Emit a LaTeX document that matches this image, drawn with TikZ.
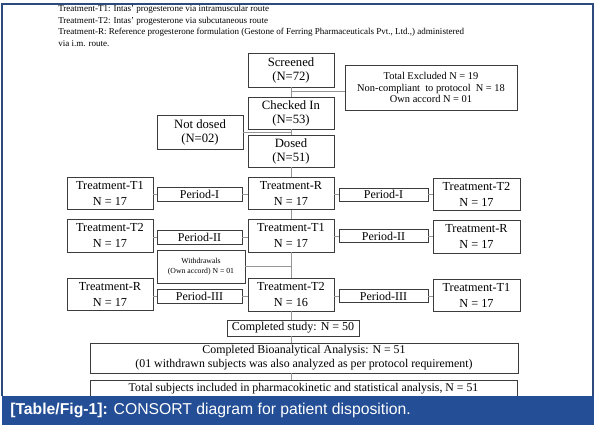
\documentclass[tikz,border=0pt]{standalone}
\usepackage{fontspec}
\setmainfont{Liberation Serif}
\setsansfont{Liberation Sans}
\definecolor{framec}{RGB}{44,74,124}
\definecolor{barc}{RGB}{36,78,150}
\definecolor{boxc}{RGB}{60,60,60}
\definecolor{linec}{RGB}{150,150,150}
\begin{document}
\begin{tikzpicture}[x=0.75pt,y=-0.75pt,
  bx/.style 2 args={draw=boxc, line width=0.7pt, minimum width={#1*0.75pt}, minimum height={#2*0.75pt}, inner sep=0pt, align=center},
  tr/.style={font=\fontsize{9.2}{12}\selectfont},
  pr/.style={font=\fontsize{9}{10}\selectfont},
  ln/.style={draw=linec, line width=0.7pt},
  hd/.style={anchor=base west, inner sep=0pt, font=\fontsize{6.77}{8}\selectfont}]
\useasboundingbox (0,0) rectangle (599,428);
% frame
\draw[framec, line width=0.8pt] (2,396) -- (2,4) -- (593,4) -- (593,396);
% header
\node[hd] (h1) at (58,12) {Treatment-T1: Intas’ progesterone via intramuscular route};
\node[hd] (h2) at (58,23.5) {Treatment-T2: Intas’ progesterone via subcutaneous route};
\node[hd] (h3) at (58,35) {Treatment-R: Reference progesterone formulation (Gestone of Ferring Pharmaceuticals Pvt., Ltd.,) administered};
\node[hd] (h4) at (58,46.5) {via i.m. route.};
% top chain
\node[bx={86}{34}, font=\fontsize{9.5}{10.5}\selectfont] (scr) at (291,70) {Screened\\(N=72)};
\node[bx={86}{32}, font=\fontsize{9.5}{10.5}\selectfont] (chk) at (291,113) {Checked In\\(N=53)};
\node[bx={86}{32}, font=\fontsize{9.5}{10.5}\selectfont] (dos) at (291,151) {Dosed\\(N=51)};
\node[bx={86}{34}, font=\fontsize{9.5}{10.5}\selectfont] (nd) at (200,132) {Not dosed\\(N=02)};
\node[bx={172}{45}, font=\fontsize{7.8}{8.8}\selectfont] (exc) at (431,87.5) {Total Excluded N = 19\\Non-compliant\ \ to protocol\ \ N = 18\\Own accord N = 01};
% row 1
\node[bx={86}{32}, tr] (t1L) at (110,193.5) {Treatment-T1\\N = 17};
\node[bx={85}{14}, pr] (p1L) at (199.5,194.5) {Period-I};
\node[bx={86}{32}, tr] (rC) at (291,193.5) {Treatment-R\\N = 17};
\node[bx={89}{13}, pr] (p1R) at (383.5,194.5) {Period-I};
\node[bx={87}{32}, tr] (t2R) at (476.5,194) {Treatment-T2\\N = 17};
% row 2
\node[bx={86}{33}, tr] (t2L) at (110,235.5) {Treatment-T2\\N = 17};
\node[bx={85}{14}, pr] (p2L) at (199.5,237) {Period-II};
\node[bx={86}{33}, tr] (t1C) at (291,235.5) {Treatment-T1\\N = 17};
\node[bx={89}{13}, pr] (p2R) at (383.5,236) {Period-II};
\node[bx={87}{33}, tr] (rR) at (476.5,236.5) {Treatment-R\\N = 17};
% withdrawals
\node[bx={88}{33}, font=\fontsize{5.8}{7.5}\selectfont] (wd) at (201,266.5) {Withdrawals\\(Own accord) N = 01};
% row 3
\node[bx={86}{32}, tr] (rL) at (110,294) {Treatment-R\\N = 17};
\node[bx={85}{14}, pr] (p3L) at (199.5,296) {Period-III};
\node[bx={86}{33}, tr] (t2C) at (291,294.5) {Treatment-T2\\N = 16};
\node[bx={89}{13}, pr] (p3R) at (383.5,296) {Period-III};
\node[bx={87}{32}, tr] (t1R) at (476.5,295) {Treatment-T1\\N = 17};
% bottom
\node[bx={132}{16}, font=\fontsize{9}{10}\selectfont] (cmp) at (293,328) {Completed study: N = 50};
\node[bx={428}{30}, font=\fontsize{8.9}{10.5}\selectfont] (bio) at (304,358) {Completed Bioanalytical Analysis: N = 51\\(01 withdrawn subjects was also analyzed as per protocol requirement)};
\node[bx={427}{18}, font=\fontsize{8.85}{10}\selectfont] (tot) at (303.5,389) {Total subjects included in pharmacokinetic and statistical analysis, N = 51};
% connectors
\coordinate (cex) at (291,91);
\coordinate (cnd) at (291,132);
\coordinate (cwd) at (291,266.5);
\draw[ln] (scr.south) -- (chk.north);
\draw[ln] (cex) -- (cex -| exc.west);
\draw[ln] (chk.south) -- (dos.north);
\draw[ln] (nd.east) -- (cnd);
\draw[ln] (dos.south) -- (rC.north);
\draw[ln] (rC.south) -- (t1C.north);
\draw[ln] (t1C.south) -- (t2C.north);
\draw[ln] (wd.east) -- (cwd);
\draw[ln] (t2C.south) -- (t2C.south |- cmp.north);
\draw[ln] (cmp.south -| t2C.south) -- (t2C.south |- bio.north);
\draw[ln] (bio.south -| t2C.south) -- (t2C.south |- tot.north);
\draw[ln] (t1L.east |- p1L.west) -- (p1L.west);
\draw[ln] (p1L.east) -- (rC.west |- p1L.east);
\draw[ln] (rC.east |- p1R.west) -- (p1R.west);
\draw[ln] (p1R.east) -- (t2R.west |- p1R.east);
\draw[ln] (t2L.east |- p2L.west) -- (p2L.west);
\draw[ln] (p2L.east) -- (t1C.west |- p2L.east);
\draw[ln] (t1C.east |- p2R.west) -- (p2R.west);
\draw[ln] (p2R.east) -- (rR.west |- p2R.east);
\draw[ln] (rL.east |- p3L.west) -- (p3L.west);
\draw[ln] (p3L.east) -- (t2C.west |- p3L.east);
\draw[ln] (t2C.east |- p3R.west) -- (p3R.west);
\draw[ln] (p3R.east) -- (t1R.west |- p3R.east);
% caption bar
\fill[barc] (1.5,396) rectangle (594,425);
\node[anchor=west, inner sep=0pt, text=white, font=\sffamily\fontsize{11.8}{13}\selectfont] (cap) at (10,410.5) {\textbf{[Table/Fig-1]:} CONSORT diagram for patient disposition.};
\end{tikzpicture}
\end{document}
